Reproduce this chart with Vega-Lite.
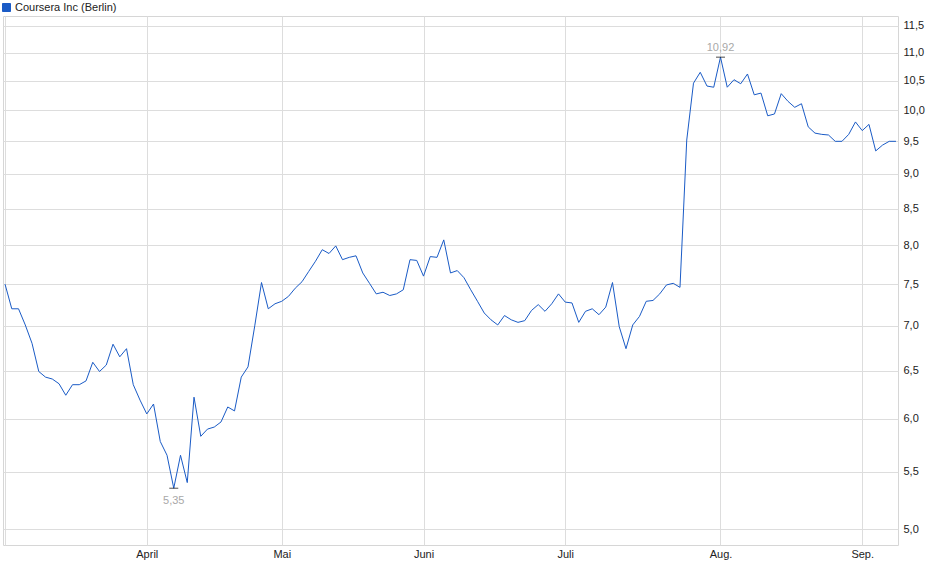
{
  "$schema": "https://vega.github.io/schema/vega-lite/v6.json",
  "autosize": {"type": "none"},
  "width": 895,
  "height": 529,
  "padding": {"left": 3, "top": 16, "right": 42, "bottom": 34},
  "background": "white",
  "config": {
    "font": "Liberation Sans",
    "view": {"stroke": "#d6d6d6", "strokeWidth": 1}
  },
  "data": {
    "values": [
      {"date": "2025-03-03", "close": 7.50},
      {"date": "2025-03-04", "close": 7.20},
      {"date": "2025-03-05", "close": 7.20},
      {"date": "2025-03-06", "close": 7.01},
      {"date": "2025-03-07", "close": 6.80},
      {"date": "2025-03-10", "close": 6.49},
      {"date": "2025-03-11", "close": 6.43},
      {"date": "2025-03-12", "close": 6.41},
      {"date": "2025-03-13", "close": 6.36},
      {"date": "2025-03-14", "close": 6.24},
      {"date": "2025-03-17", "close": 6.35},
      {"date": "2025-03-18", "close": 6.35},
      {"date": "2025-03-19", "close": 6.39},
      {"date": "2025-03-20", "close": 6.59},
      {"date": "2025-03-21", "close": 6.49},
      {"date": "2025-03-24", "close": 6.56},
      {"date": "2025-03-25", "close": 6.79},
      {"date": "2025-03-26", "close": 6.65},
      {"date": "2025-03-27", "close": 6.74},
      {"date": "2025-03-28", "close": 6.35},
      {"date": "2025-03-31", "close": 6.19},
      {"date": "2025-04-01", "close": 6.05},
      {"date": "2025-04-02", "close": 6.15},
      {"date": "2025-04-03", "close": 5.78},
      {"date": "2025-04-04", "close": 5.65},
      {"date": "2025-04-07", "close": 5.35},
      {"date": "2025-04-08", "close": 5.65},
      {"date": "2025-04-09", "close": 5.40},
      {"date": "2025-04-10", "close": 6.22},
      {"date": "2025-04-11", "close": 5.83},
      {"date": "2025-04-14", "close": 5.90},
      {"date": "2025-04-15", "close": 5.92},
      {"date": "2025-04-16", "close": 5.97},
      {"date": "2025-04-17", "close": 6.12},
      {"date": "2025-04-22", "close": 6.08},
      {"date": "2025-04-23", "close": 6.43},
      {"date": "2025-04-24", "close": 6.54},
      {"date": "2025-04-25", "close": 7.00},
      {"date": "2025-04-28", "close": 7.52},
      {"date": "2025-04-29", "close": 7.20},
      {"date": "2025-04-30", "close": 7.26},
      {"date": "2025-05-02", "close": 7.29},
      {"date": "2025-05-05", "close": 7.35},
      {"date": "2025-05-06", "close": 7.45},
      {"date": "2025-05-07", "close": 7.53},
      {"date": "2025-05-08", "close": 7.66},
      {"date": "2025-05-09", "close": 7.79},
      {"date": "2025-05-12", "close": 7.94},
      {"date": "2025-05-13", "close": 7.89},
      {"date": "2025-05-14", "close": 7.99},
      {"date": "2025-05-15", "close": 7.81},
      {"date": "2025-05-16", "close": 7.84},
      {"date": "2025-05-19", "close": 7.86},
      {"date": "2025-05-20", "close": 7.64},
      {"date": "2025-05-21", "close": 7.51},
      {"date": "2025-05-22", "close": 7.38},
      {"date": "2025-05-23", "close": 7.40},
      {"date": "2025-05-26", "close": 7.36},
      {"date": "2025-05-27", "close": 7.38},
      {"date": "2025-05-28", "close": 7.43},
      {"date": "2025-05-29", "close": 7.81},
      {"date": "2025-05-30", "close": 7.80},
      {"date": "2025-06-02", "close": 7.60},
      {"date": "2025-06-03", "close": 7.85},
      {"date": "2025-06-04", "close": 7.84},
      {"date": "2025-06-05", "close": 8.07},
      {"date": "2025-06-06", "close": 7.64},
      {"date": "2025-06-09", "close": 7.67},
      {"date": "2025-06-10", "close": 7.58},
      {"date": "2025-06-11", "close": 7.43},
      {"date": "2025-06-12", "close": 7.29},
      {"date": "2025-06-13", "close": 7.15},
      {"date": "2025-06-16", "close": 7.07},
      {"date": "2025-06-17", "close": 7.01},
      {"date": "2025-06-18", "close": 7.12},
      {"date": "2025-06-19", "close": 7.07},
      {"date": "2025-06-20", "close": 7.04},
      {"date": "2025-06-23", "close": 7.06},
      {"date": "2025-06-24", "close": 7.18},
      {"date": "2025-06-25", "close": 7.25},
      {"date": "2025-06-26", "close": 7.17},
      {"date": "2025-06-27", "close": 7.26},
      {"date": "2025-06-30", "close": 7.38},
      {"date": "2025-07-01", "close": 7.28},
      {"date": "2025-07-02", "close": 7.27},
      {"date": "2025-07-03", "close": 7.04},
      {"date": "2025-07-04", "close": 7.17},
      {"date": "2025-07-07", "close": 7.20},
      {"date": "2025-07-08", "close": 7.13},
      {"date": "2025-07-09", "close": 7.22},
      {"date": "2025-07-10", "close": 7.52},
      {"date": "2025-07-11", "close": 6.99},
      {"date": "2025-07-14", "close": 6.74},
      {"date": "2025-07-15", "close": 7.01},
      {"date": "2025-07-16", "close": 7.11},
      {"date": "2025-07-17", "close": 7.29},
      {"date": "2025-07-18", "close": 7.30},
      {"date": "2025-07-21", "close": 7.38},
      {"date": "2025-07-22", "close": 7.49},
      {"date": "2025-07-23", "close": 7.51},
      {"date": "2025-07-24", "close": 7.46},
      {"date": "2025-07-25", "close": 9.52},
      {"date": "2025-07-28", "close": 10.46},
      {"date": "2025-07-29", "close": 10.65},
      {"date": "2025-07-30", "close": 10.41},
      {"date": "2025-07-31", "close": 10.39},
      {"date": "2025-08-01", "close": 10.92},
      {"date": "2025-08-04", "close": 10.39},
      {"date": "2025-08-05", "close": 10.52},
      {"date": "2025-08-06", "close": 10.45},
      {"date": "2025-08-07", "close": 10.62},
      {"date": "2025-08-08", "close": 10.26},
      {"date": "2025-08-11", "close": 10.29},
      {"date": "2025-08-12", "close": 9.91},
      {"date": "2025-08-13", "close": 9.94},
      {"date": "2025-08-14", "close": 10.28},
      {"date": "2025-08-15", "close": 10.15},
      {"date": "2025-08-18", "close": 10.05},
      {"date": "2025-08-19", "close": 10.11},
      {"date": "2025-08-20", "close": 9.73},
      {"date": "2025-08-21", "close": 9.63},
      {"date": "2025-08-22", "close": 9.61},
      {"date": "2025-08-25", "close": 9.60},
      {"date": "2025-08-26", "close": 9.50},
      {"date": "2025-08-27", "close": 9.50},
      {"date": "2025-08-28", "close": 9.61},
      {"date": "2025-08-29", "close": 9.81},
      {"date": "2025-09-01", "close": 9.67},
      {"date": "2025-09-02", "close": 9.77},
      {"date": "2025-09-03", "close": 9.35},
      {"date": "2025-09-04", "close": 9.44},
      {"date": "2025-09-05", "close": 9.50},
      {"date": "2025-09-08", "close": 9.50}
    ]
  },
  "encoding": {
    "x": {
      "field": "date",
      "type": "ordinal",
      "sort": "ascending",
      "scale": {"type": "point", "padding": 0.3},
      "axis": {
        "title": null,
        "values": ["2025-03-03", "2025-04-01", "2025-05-02", "2025-06-02", "2025-07-01", "2025-08-01", "2025-09-01"],
        "labelExpr": "datum.value == '2025-04-01' ? 'April' : datum.value == '2025-05-02' ? 'Mai' : datum.value == '2025-06-02' ? 'Juni' : datum.value == '2025-07-01' ? 'Juli' : datum.value == '2025-08-01' ? 'Aug.' : datum.value == '2025-09-01' ? 'Sep.' : ''",
        "labelAngle": 0,
        "labelFontSize": 11,
        "labelColor": "#222222",
        "labelPadding": 3,
        "ticks": false,
        "domain": false,
        "grid": true,
        "gridColor": "#dddddd"
      }
    },
    "y": {
      "field": "close",
      "type": "quantitative",
      "scale": {"type": "log", "domain": [4.87, 11.69], "nice": false, "zero": false},
      "axis": {
        "title": null,
        "orient": "right",
        "values": [5, 5.5, 6, 6.5, 7, 7.5, 8, 8.5, 9, 9.5, 10, 10.5, 11, 11.5],
        "labelExpr": "replace(format(datum.value, '.1f'), '.', ',')",
        "labelFontSize": 11,
        "labelColor": "#222222",
        "labelPadding": 5,
        "ticks": false,
        "domain": false,
        "grid": true,
        "gridColor": "#dddddd"
      }
    }
  },
  "layer": [
    {
      "mark": {"type": "line", "strokeWidth": 1, "interpolate": "linear"},
      "encoding": {
        "color": {
          "datum": "Coursera Inc (Berlin)",
          "type": "nominal",
          "scale": {"range": ["#1a5bc6"]},
          "legend": {
            "title": null,
            "orient": "none",
            "legendX": -2,
            "legendY": -14,
            "padding": 0,
            "symbolType": "square",
            "symbolSize": 64,
            "symbolFillColor": "#1a5bc6",
            "symbolStrokeColor": "#163a78",
            "symbolStrokeWidth": 1,
            "labelFontSize": 11,
            "labelColor": "#222222",
            "labelOffset": 3
          }
        }
      }
    },
    {
      "transform": [
        {"joinaggregate": [{"op": "max", "field": "close", "as": "hi"}, {"op": "min", "field": "close", "as": "lo"}]},
        {"filter": "datum.close == datum.hi || datum.close == datum.lo"}
      ],
      "mark": {"type": "tick", "orient": "horizontal", "size": 9, "thickness": 1, "color": "black"}
    },
    {
      "transform": [
        {"joinaggregate": [{"op": "max", "field": "close", "as": "hi"}]},
        {"filter": "datum.close == datum.hi"},
        {"calculate": "replace(format(datum.close, '.2f'), '.', ',')", "as": "label"}
      ],
      "mark": {"type": "text", "dy": -9, "fontSize": 11, "color": "#a8a8a8"},
      "encoding": {"text": {"field": "label"}}
    },
    {
      "transform": [
        {"joinaggregate": [{"op": "min", "field": "close", "as": "lo"}]},
        {"filter": "datum.close == datum.lo"},
        {"calculate": "replace(format(datum.close, '.2f'), '.', ',')", "as": "label"}
      ],
      "mark": {"type": "text", "dy": 13, "fontSize": 11, "color": "#a8a8a8"},
      "encoding": {"text": {"field": "label"}}
    }
  ]
}
